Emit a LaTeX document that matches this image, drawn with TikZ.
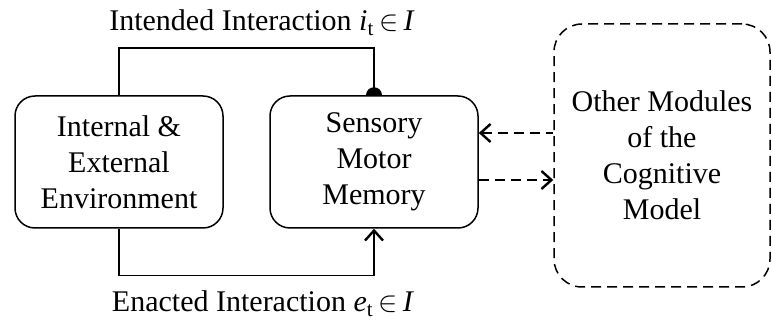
\documentclass[tikz,border=0pt]{standalone}
\usepackage{fontspec}
\setmainfont{Liberation Serif}
\usetikzlibrary{arrows.meta}
\begin{document}
\begin{tikzpicture}[x=0.5pt,y=-0.5pt,
  box/.style={draw,line width=0.75pt,rounded corners=10pt,minimum width=104pt,minimum height=66pt,align=center,font=\fontsize{15}{18}\selectfont},
  link/.style={line width=0.75pt},
  label/.style={anchor=base,font=\fontsize{15}{18}\selectfont},
  >={Straight Barb[length=5pt,width=9pt,line width=1.2pt]}]
  \useasboundingbox (0,0) rectangle (772,320);
  \node[box] (env) at (119,162) {Internal \&\\External\\Environment};
  \node[box] (mem) at (374,162) {Sensory\\Motor\\Memory};
  \node[box,dash pattern=on 5pt off 3pt,rounded corners=14pt,minimum width=108pt,minimum height=131.5pt] (oth) at (662,155.5) {Other Modules\\of the\\Cognitive\\Model};
  \draw[link] (env.north) -- ++(0,-47) -| (mem.north);
  \fill (mem.north) ++(-8,0) arc[start angle=180,end angle=0,radius=4pt];
  \draw[link,->] (env.south) -- ++(0,47) -| (mem.south);
  \draw[link,dash pattern=on 5pt off 3pt,<-] (mem.east |- 0,133) -- (oth.west |- 0,133);
  \draw[link,dash pattern=on 5pt off 3pt,->] (mem.east |- 0,180) -- (oth.west |- 0,180);
  \node[label] (intended) at (262,31) {Intended Interaction \textit{i}\textsubscript{t}\,$\in$\,\textit{I}};
  \node[label] (enacted) at (263,312) {Enacted Interaction \textit{e}\textsubscript{t}\,$\in$\,\textit{I}};
\end{tikzpicture}
\end{document}
